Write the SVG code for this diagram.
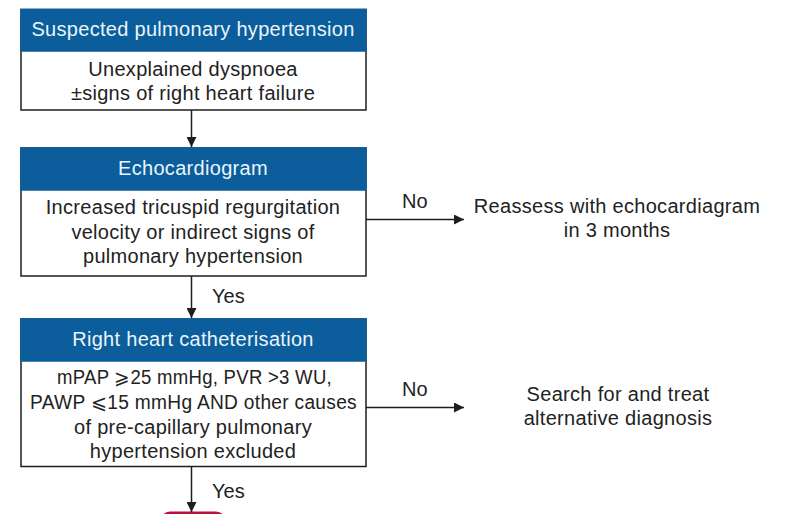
<svg xmlns="http://www.w3.org/2000/svg" width="788" height="514" viewBox="0 0 788 514">
<style>
.hd{fill:#0b5d9b;}
.bx{fill:#ffffff;stroke:#1e1e1e;stroke-width:1.5;}
.ht{font-family:"Liberation Sans",Arial,sans-serif;font-size:20px;fill:#eaf5fc;text-anchor:middle;letter-spacing:0.3px;}
.bt{font-family:"Liberation Sans",Arial,sans-serif;font-size:20px;fill:#222222;text-anchor:middle;letter-spacing:0.3px;}
.lb{font-family:"Liberation Sans",Arial,sans-serif;font-size:20px;fill:#222222;}
.cn{stroke:#1e1e1e;stroke-width:1.5;fill:none;}
</style>
<defs>
<marker id="ah" viewBox="0 0 10 10" refX="10" refY="5" markerWidth="10" markerHeight="10" markerUnits="userSpaceOnUse" orient="auto">
<path d="M0,0 L10,5 L0,10 Z" fill="#1e1e1e"/>
</marker>
</defs>
<rect width="788" height="514" fill="#ffffff"/>
<g id="n1">
<rect class="bx" x="21" y="9.5" width="345" height="100.5"/>
<rect class="hd" x="20.25" y="8.75" width="346.5" height="43"/>
<text class="ht" x="193" y="36">Suspected pulmonary hypertension</text>
<text class="bt" x="193" y="76">Unexplained dyspnoea</text>
<text class="bt" x="193" y="100">±signs of right heart failure</text>
</g>
<g id="n2">
<rect class="bx" x="21" y="148" width="345" height="128"/>
<rect class="hd" x="20.25" y="147.25" width="346.5" height="43.5"/>
<text class="ht" x="193" y="175">Echocardiogram</text>
<text class="bt" x="193" y="214">Increased tricuspid regurgitation</text>
<text class="bt" x="193" y="238.5">velocity or indirect signs of</text>
<text class="bt" x="193" y="263">pulmonary hypertension</text>
</g>
<g id="n3">
<rect class="bx" x="21" y="319" width="345" height="147.5"/>
<rect class="hd" x="20.25" y="318.25" width="346.5" height="43.5"/>
<text class="ht" x="193" y="346">Right heart catheterisation</text>
<text class="bt" x="194.5" y="384" textLength="275" lengthAdjust="spacingAndGlyphs">mPAP ⩾25 mmHg, PVR &gt;3 WU,</text>
<text class="bt" x="193.5" y="409" textLength="327" lengthAdjust="spacingAndGlyphs">PAWP ⩽15 mmHg AND other causes</text>
<text class="bt" x="193" y="434">of pre-capillary pulmonary</text>
<text class="bt" x="193" y="458">hypertension excluded</text>
</g>
<g id="n4">
<text class="bt" x="617" y="213">Reassess with echocardiagram</text>
<text class="bt" x="617" y="237">in 3 months</text>
</g>
<g id="n5">
<text class="bt" x="618" y="401">Search for and treat</text>
<text class="bt" x="618" y="425">alternative diagnosis</text>
</g>
<g id="n6">
<rect x="160" y="511.5" width="66" height="30" rx="10" fill="#b8123c"/>
</g>
<g id="connectors">
<line class="cn" x1="191.5" y1="110" x2="191.5" y2="147" marker-end="url(#ah)"/>
<line class="cn" x1="191.5" y1="276" x2="191.5" y2="318" marker-end="url(#ah)"/>
<line class="cn" x1="191.5" y1="466.5" x2="191.5" y2="512" marker-end="url(#ah)"/>
<line class="cn" x1="366" y1="219.5" x2="464" y2="219.5" marker-end="url(#ah)"/>
<line class="cn" x1="366" y1="407.5" x2="464" y2="407.5" marker-end="url(#ah)"/>
<text class="lb" x="212" y="303">Yes</text>
<text class="lb" x="212" y="497.5">Yes</text>
<text class="lb" x="402" y="208">No</text>
<text class="lb" x="402" y="396">No</text>
</g>
</svg>
